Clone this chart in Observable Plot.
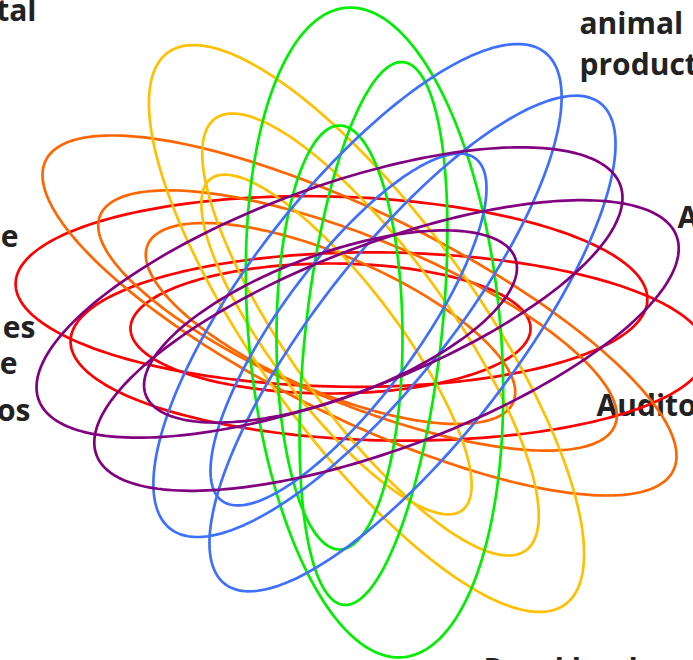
<!DOCTYPE html>
<html>
<head>
<meta charset="utf-8">
<script src="https://cdn.jsdelivr.net/npm/d3@7"></script>
<script src="https://cdn.jsdelivr.net/npm/@observablehq/plot@0.6"></script>
<style>
  html, body { margin: 0; padding: 0; background: #fff; }
  #chart svg { display: block; }
</style>
</head>
<body>
<div id="chart"></div>
<script>
// Ellipse parameters (pixel-like data units)
const ids    = ["R1","R2","R3","O1","O2","O3","Y1","Y2","Y3","G1","G2","G3","B1","B2","B3","P1","P2","P3"];
const groups = ["set 1","set 1","set 1","set 2","set 2","set 2","set 3","set 3","set 3","set 4","set 4","set 4","set 5","set 5","set 5","set 6","set 6","set 6"];
const cx     = [331, 388, 330, 359, 357, 330, 366, 370, 336, 374, 373, 339, 357, 412, 348, 329, 386, 330];
const cy     = [291, 346, 328, 315, 320, 323, 328, 334, 344, 332, 333, 337, 290, 343, 329, 292, 345, 326];
const semiA  = [316, 318, 200, 350, 278, 199, 340, 266, 208, 326, 273, 212, 303, 305, 213, 310, 310, 197];
const semiB  = [ 95,  94,  65, 102,  83,  68, 110,  80,  62, 126,  68,  63, 103,  98,  68, 104, 102,  72];
const angle  = [1.5, 1, 0, 26.3, 22.2, 23.3, 54.3, 54.3, 52.8, 85, 96.3, 90, -51.8, -52, -53.5, -20.3, -20.7, -20.3];

const groupNames  = ["set 1","set 2","set 3","set 4","set 5","set 6"];
const groupColors = ["#ff0000","#ff6600","#ffc000","#00ee00","#3f6fff","#800080"];

// Labels (partly outside the frame in the original)
const labelText = ["tal","e","es","e","os","animal","product","A","Audito","Rural land"];
const labelX    = [36, 18, 35, 17, 30, 579, 579, 677, 596, 483];
const labelY    = [20, 246, 337, 373, 420, 33, 74, 227, 415, 679];
const labelAnchor = ["end","end","end","end","end","start","start","start","start","start"];

// Build outline points from each ellipse's parameters
const steps = 240;
const pts = [];
ids.forEach((id, i) => {
  const t = angle[i] * Math.PI / 180;
  for (let k = 0; k <= steps; k++) {
    const s = 2 * Math.PI * k / steps;
    const u = semiA[i] * Math.cos(s), v = semiB[i] * Math.sin(s);
    pts.push({
      id, group: groups[i],
      x: cx[i] + u * Math.cos(t) - v * Math.sin(t),
      y: cy[i] + u * Math.sin(t) + v * Math.cos(t)
    });
  }
});
const labels = labelText.map((text, i) => ({text, x: labelX[i], y: labelY[i], anchor: labelAnchor[i]}));

const textStyle = {
  x: "x", y: "y", text: "text", lineAnchor: "bottom",
  fontFamily: "'Open Sans', Lato, sans-serif", fontWeight: "bold", fontSize: 30, fill: "#222222"
};

const chart = Plot.plot({
  width: 693,
  height: 660,
  margin: 0,
  x: {domain: [0, 693], axis: null},
  y: {domain: [660, 0], axis: null},
  color: {type: "ordinal", domain: groupNames, range: groupColors},
  style: {background: "#fff"},
  marks: [
    Plot.text(labels.filter(d => d.anchor === "end"), {...textStyle, textAnchor: "end"}),
    Plot.text(labels.filter(d => d.anchor === "start"), {...textStyle, textAnchor: "start"}),
    Plot.line(pts, {x: "x", y: "y", z: "id", stroke: "group", strokeWidth: 2.7, curve: "linear"})
  ]
});
document.getElementById("chart").appendChild(chart);
</script>
</body>
</html>
